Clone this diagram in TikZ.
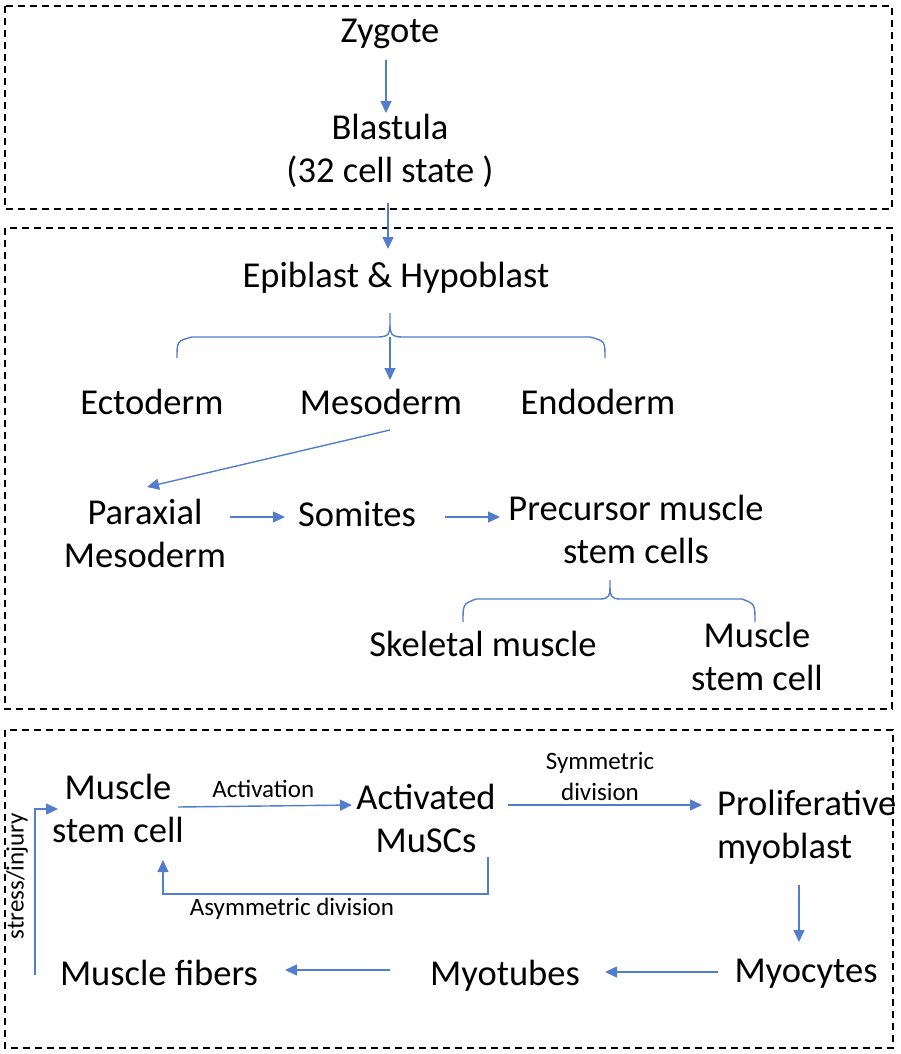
\documentclass[tikz,border=0pt]{standalone}
\usepackage{fontspec}
\setmainfont{Carlito}
\usetikzlibrary{arrows.meta}
\definecolor{arrblue}{RGB}{82,125,205}
\tikzset{
  big/.style={font=\fontsize{36.5}{43}\selectfont, inner sep=0pt, anchor=base, align=center},
  small/.style={font=\fontsize{25}{31}\selectfont, inner sep=0pt, anchor=base, align=center},
  arr/.style={draw=arrblue, line width=1.4pt, -{Triangle[length=12pt,width=11pt]}},
  bracel/.style={draw=arrblue, line width=1.4pt},
  box/.style={draw=black, line width=2pt, dash pattern=on 7pt off 5pt}
}
\begin{document}
\begin{tikzpicture}[x=1pt,y=-1pt]
\useasboundingbox (0,0) rectangle (900,1054);
% boxes
\draw[box] (5,6) rectangle (892,209);
\draw[box] (5,228) rectangle (892,709);
\draw[box] (5,730) rectangle (893,1048);

% box 1 (anchor=base of a two-line node is the baseline of its last line)
\node[big] (zyg) at (390,43) {Zygote};
\node[big] (bla) at (390,182) {Blastula\\(32 cell state )};
\coordinate (zygout) at (386,60);
\coordinate (blain) at (386,113);
\draw[arr] (zygout) -- (blain);
\coordinate (b1out) at (388,203);
\coordinate (b2in) at (388,249);
\draw[arr] (b1out) -- (b2in);

% box 2
\node[big] (epi) at (396,287) {Epiblast \& Hypoblast};
\draw[bracel] (177,358) .. controls (177,341) .. (192,337) -- (378,337)
  .. controls (389,337) and (390,333) .. (390,325) -- (390,313);
\draw[bracel] (390,325) .. controls (390,333) and (391,337) .. (402,337) -- (590,337)
  .. controls (605,341) .. (605,358);
\coordinate (brace1) at (390,337);
\coordinate (mesoin) at (390,380);
\draw[arr] (brace1) -- (mesoin);
\node[big] (ecto) at (152,414) {Ectoderm};
\node[big] (meso) at (381,414) {Mesoderm};
\node[big] (endo) at (598,414) {Endoderm};
\coordinate (mesoout) at (390,430);
\coordinate (parin) at (147,487);
\draw[arr] (mesoout) -- (parin);
\node[big] (par) at (145,567) {Paraxial\\Mesoderm};
\node[big] (som) at (357,526) {Somites};
\node[big] (pre) at (636,563) {Precursor muscle\\stem cells};
\coordinate (parout) at (230,517);
\coordinate (somin) at (285,517);
\coordinate (somout) at (445,517);
\coordinate (prein) at (500,517);
\draw[arr] (parout) -- (somin);
\draw[arr] (somout) -- (prein);
\draw[bracel] (463,622) .. controls (463,604) .. (476,599) -- (600,599)
  .. controls (609,599) and (610,595) .. (610,588) -- (610,580);
\draw[bracel] (610,588) .. controls (610,595) and (611,599) .. (620,599) -- (742,599)
  .. controls (755,604) .. (755,622);
\node[big] (skel) at (483,656) {Skeletal muscle};
\node[big] (msc1) at (757,690) {Muscle\\stem cell};

% box 3
\node[big] (msc) at (118,842) {Muscle\\stem cell};
\node[big] (act) at (426,852) {Activated\\MuSCs};
\node[big, anchor=base west, align=left] (pro) at (717,858) {Proliferative\\myoblast};
\node[big] (myc) at (806,982) {Myocytes};
\node[big] (myt) at (505,985) {Myotubes};
\node[big] (fib) at (159,985) {Muscle fibers};

\coordinate (mscout) at (178,807);
\coordinate (actin) at (352,805);
\draw[arr] (mscout) -- node[small, anchor=base, pos=0.49, yshift=9pt] (lact) {Activation} (actin);
\coordinate (actout) at (508,805);
\coordinate (proin) at (702,805);
\draw[arr] (actout) -- (proin);
\node[small] (lsym) at (600,800) {Symmetric\\division};
\coordinate (actdown) at (488,857);
\coordinate (mscup) at (163,860);
\draw[arr] (actdown) -- (488,894) -- (163,894) -- (mscup);
\node[small] (lasym) at (292,915) {Asymmetric division};
\coordinate (proout) at (799,885);
\coordinate (mycin) at (799,942);
\draw[arr] (proout) -- (mycin);
\coordinate (mycout) at (718,972);
\coordinate (mytin) at (605,972);
\draw[arr] (mycout) -- (mytin);
\coordinate (mytout) at (390,970);
\coordinate (fibin) at (285,970);
\draw[arr] (mytout) -- (fibin);
\coordinate (fibup) at (35,975);
\coordinate (mscin) at (58,809);
\draw[arr] (fibup) -- (35,809) -- (mscin);
\node[small, rotate=90, anchor=center] (lstress) at (17,876) {stress/injury};
\end{tikzpicture}
\end{document}
